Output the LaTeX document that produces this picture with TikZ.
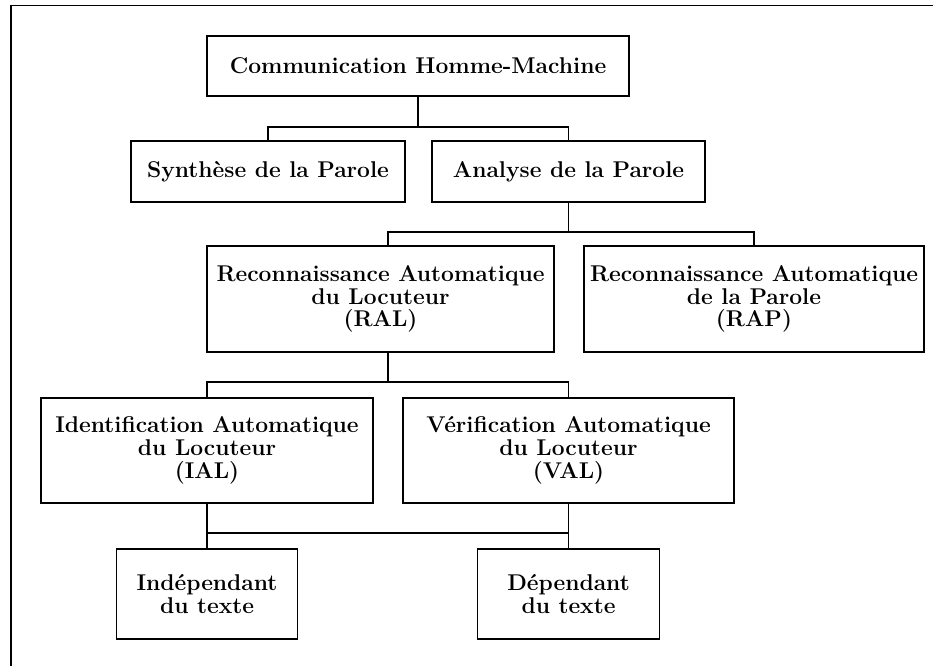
\documentclass[tikz,border=0pt]{standalone}
\usepackage{fontspec}
\begin{document}
\begin{tikzpicture}[x=0.5pt,y=-0.5pt,line width=0.7pt,
    boite/.style={draw, inner sep=0pt, align=center,
      font=\fontsize{11.4}{11.4}\selectfont\bfseries\addfontfeatures{LetterSpace=12}}]
  \useasboundingbox (0,0) rectangle (933,666);
  % cadre
  \draw (933,5.5) -- (11,5.5) -- (11,666);

  \node[boite, minimum width=211pt, minimum height=30pt] (chm) at (418,66) {Communication Homme-Machine};
  \node[boite, minimum width=137pt, minimum height=30.5pt] (synth) at (268,171.5) {Synthèse de la Parole};
  \node[boite, minimum width=136.5pt, minimum height=30.5pt] (analyse) at (568.5,171.5) {Analyse de la Parole};
  \node[boite, minimum width=173.5pt, minimum height=53pt] (ral) at (380.5,299) {Reconnaissance Automatique\\du Locuteur\\(RAL)};
  \node[boite, minimum width=170pt, minimum height=53pt] (rap) at (754,299) {Reconnaissance Automatique\\de la Parole\\(RAP)};
  \node[boite, minimum width=166pt, minimum height=52.5pt] (ial) at (207,450.5) {Identification Automatique\\du Locuteur\\(IAL)};
  \node[boite, minimum width=165.5pt, minimum height=52.5pt] (val) at (568.5,450.5) {Vérification Automatique\\du Locuteur\\(VAL)};
  \node[boite, minimum width=90.5pt, minimum height=45pt] (indep) at (207,594) {Indépendant\\du texte};
  \node[boite, minimum width=91pt, minimum height=45pt] (dep) at (568.5,594) {Dépendant\\du texte};

  % embranchements
  \coordinate (j1) at (418,127);
  \coordinate (j2) at (388,232);
  \coordinate (j3) at (388,382);
  \coordinate (j4) at (388,533);

  \draw (chm) -- (j1);
  \draw (synth.north) |- (j1) -| (analyse.north);
  \draw (analyse.south) -- (analyse.south |- j2);
  \draw (ral.north -| j2) -- (j2) -| (rap.north);
  \draw (ral.south -| j3) -- (j3);
  \draw (ial.north) |- (j3) -| (val.north);
  \draw (ial.south) -- (indep.north);
  \draw (val.south) -- (dep.north);
  \draw (ial.south |- j4) -- (val.south |- j4);
\end{tikzpicture}
\end{document}
